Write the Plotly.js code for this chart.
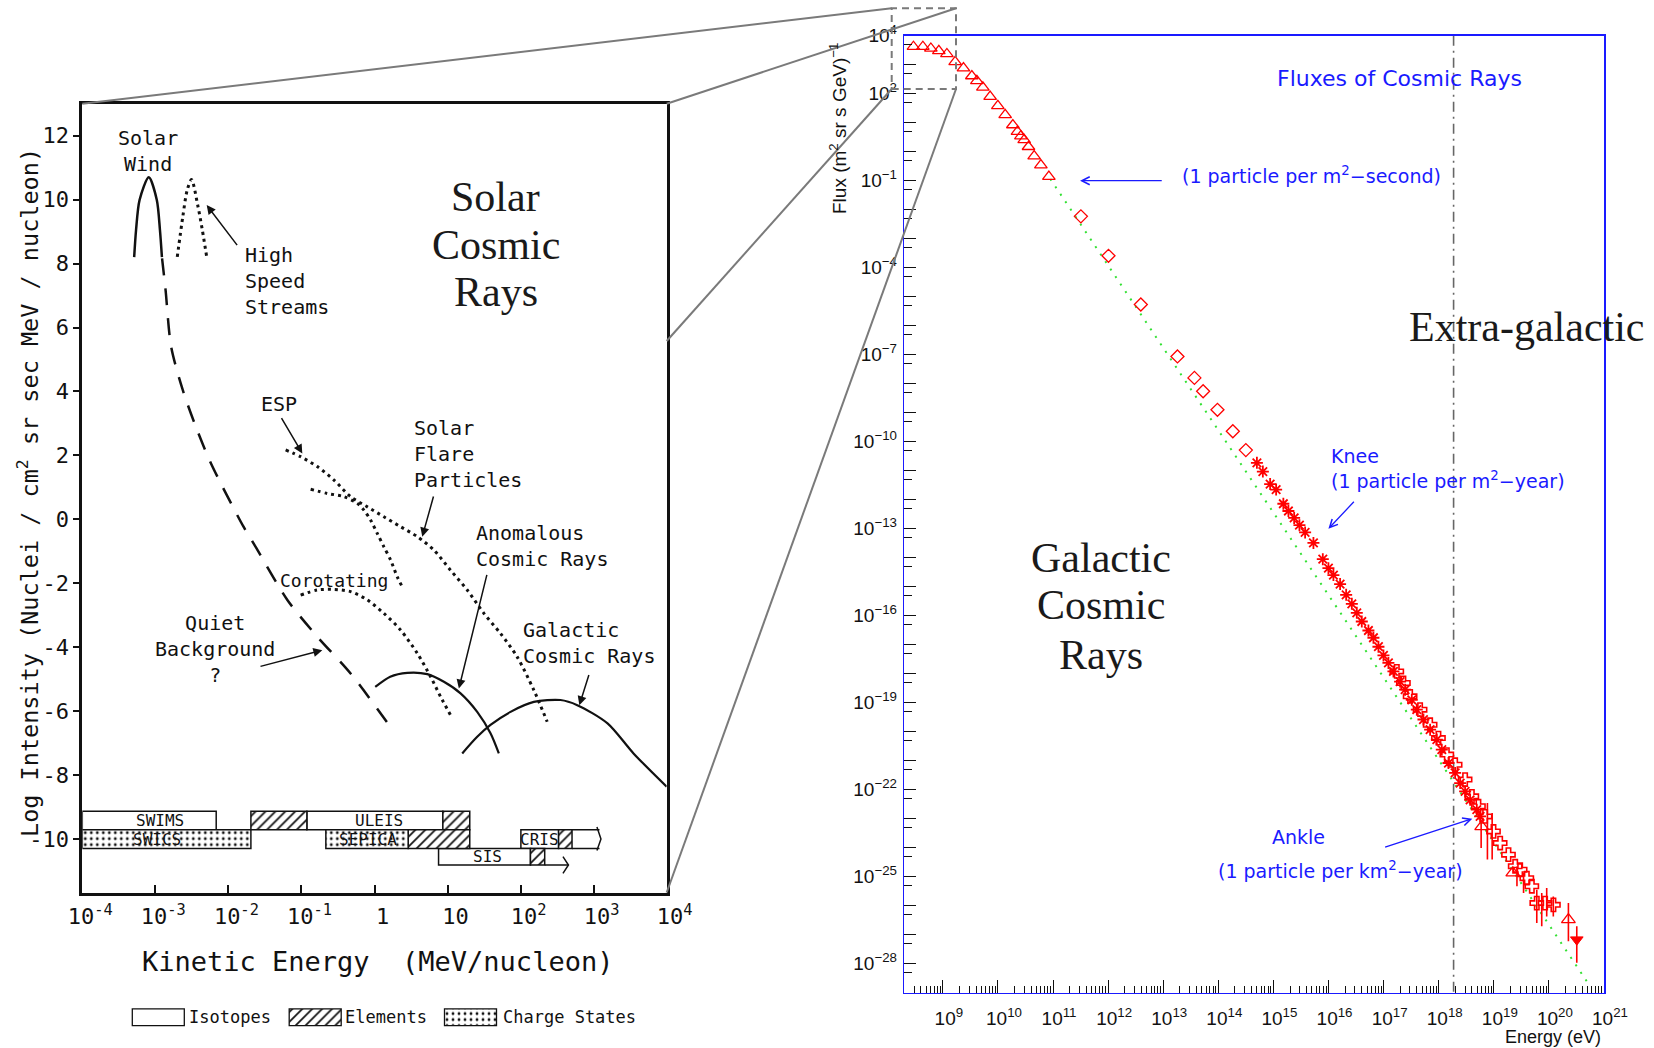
<!DOCTYPE html>
<html>
<head>
<meta charset="utf-8">
<script src="https://cdn.plot.ly/plotly-3.0.1.min.js"></script>
<style>html,body{margin:0;padding:0;background:#fff;}</style>
</head>
<body>
<div id="chart" style="width:1654px;height:1048px;"></div>
<script>
// ================= LEFT PANEL DATA (log10 kinetic energy in MeV/nucleon, log intensity) =================
const solarWindLogE = [-3.29, -3.264, -3.216, -3.09, -2.98, -2.937, -2.91];
const solarWindLogI = [8.2, 9.05, 9.99, 10.7, 9.99, 9.05, 8.2];

const highSpeedLogE = [-2.70, -2.624, -2.564, -2.505, -2.416, -2.357, -2.297];
const highSpeedLogI = [8.21, 9.47, 10.3, 10.63, 9.78, 9.05, 8.21];

const quietLogE = [-2.908, -2.86, -2.784, -2.624, -2.446, -2.238, -1.793, -1.627, -1.193, -0.783, -0.327, 0.265];
const quietLogI = [8.16, 7.17, 5.40, 4.04, 2.90, 1.75, -0.23, -0.86, -2.52, -3.67, -4.82, -6.64];

const flareLogE = [-1.216, -1.011, -0.783, -0.555, -0.327, -0.098, 0.129, 0.357, 0.586, 0.813, 1.041, 1.270, 1.497, 1.725, 1.953, 2.181, 2.364];
const flareLogI = [2.17, 1.96, 1.65, 1.23, 0.71, 0.39, 0.08, -0.23, -0.54, -0.96, -1.59, -2.21, -2.94, -3.57, -4.30, -5.34, -6.33];

const steepLogE = [-0.874, -0.646, -0.419, -0.235, -0.145, -0.054, 0.038, 0.129, 0.220, 0.312, 0.380];
const steepLogI = [0.94, 0.81, 0.71, 0.50, 0.29, -0.02, -0.44, -0.86, -1.27, -1.80, -2.11];

const corotLogE = [-1.011, -0.783, -0.555, -0.327, -0.098, 0.129, 0.357, 0.586, 0.768, 0.905, 1.041];
const corotLogI = [-2.37, -2.21, -2.19, -2.26, -2.52, -2.94, -3.46, -4.19, -4.92, -5.55, -6.12];

const acrLogE = [0.010, 0.215, 0.449, 0.722, 0.950, 1.178, 1.406, 1.588, 1.702];
const acrLogI = [-5.24, -4.92, -4.80, -4.84, -5.08, -5.44, -6.02, -6.69, -7.32];

const gcrLogE = [1.201, 1.406, 1.588, 1.862, 2.181, 2.546, 2.776, 3.19, 3.546, 4.0];
const gcrLogI = [-7.32, -6.80, -6.43, -6.02, -5.71, -5.65, -5.81, -6.38, -7.32, -8.36];

// instrument coverage boxes (log10 start / end, row centre)
const isoStart = [-4, -0.926, 2.004, 0.877];
const isoEnd   = [-2.167, 0.936, 2.52, 2.135];
const isoRow   = [-9.42, -9.42, -10.0, -10.55];
const elemStart = [-1.692, 0.936, 0.461, 2.52, 2.135];
const elemEnd   = [-0.926, 1.304, 1.304, 2.704, 2.33];
const elemRow   = [-9.42, -9.42, -10.0, -10.0, -10.55];
const chargeStart = [-4, -0.666];
const chargeEnd   = [-1.692, 0.461];
const chargeRow   = [-10.0, -10.0];
const instNames = ['SWIMS', 'ULEIS', 'SWICS', 'SEPICA', 'CRIS', 'SIS'];
const instLabelLogE = [-2.934, 0.061, -2.98, -0.087, 2.253, 1.542];
const instLabelRow  = [-9.42, -9.42, -10.0, -10.0, -10.0, -10.55];

const leftTickExp = [-4, -3, -2, -1, 0, 1, 2, 3, 4];
const leftTickText = ['10<sup>-4</sup>', '10<sup>-3</sup>', '10<sup>-2</sup>', '10<sup>-1</sup>', '1', '10', '10<sup>2</sup>', '10<sup>3</sup>', '10<sup>4</sup>'];
const leftYTicks = [-10, -8, -6, -4, -2, 0, 2, 4, 6, 8, 10, 12];

// ================= RIGHT PANEL DATA (log10 energy in eV, log10 flux) =================
const lowTriLogE = [8.466, 8.637, 8.782, 8.927, 9.073, 9.223, 9.374, 9.526, 9.617, 9.726, 9.858, 9.998, 10.131, 10.270, 10.354, 10.416, 10.476, 10.554, 10.657, 10.779, 10.924];
const lowTriLogF = [3.62, 3.62, 3.56, 3.48, 3.37, 3.10, 2.88, 2.61, 2.44, 2.22, 1.90, 1.58, 1.27, 0.92, 0.69, 0.54, 0.41, 0.17, -0.15, -0.46, -0.86];

const diamondLogE = [11.505, 12.006, 12.593, 13.258, 13.566, 13.724, 13.984, 14.263, 14.499];
const diamondLogF = [-2.23, -3.59, -5.27, -7.06, -7.80, -8.26, -8.90, -9.64, -10.29];

const starLogE = [14.70, 14.808, 14.94, 15.049, 15.18, 15.272, 15.376, 15.472, 15.575, 15.726, 15.896, 15.998, 16.089, 16.21, 16.32, 16.423, 16.513, 16.604, 16.724, 16.815, 16.906, 16.997, 17.087, 17.178, 17.299, 17.390, 17.511, 17.602, 17.723, 17.844, 17.966, 18.056, 18.177, 18.298, 18.389, 18.479, 18.570, 18.691, 18.751];
const starLogF = [-10.73, -11.03, -11.46, -11.65, -12.14, -12.39, -12.63, -12.88, -13.13, -13.49, -14.05, -14.36, -14.60, -14.91, -15.28, -15.59, -15.90, -16.20, -16.51, -16.76, -17.07, -17.37, -17.63, -17.92, -18.27, -18.55, -18.90, -19.24, -19.58, -19.93, -20.27, -20.62, -21.08, -21.42, -21.77, -22.06, -22.35, -22.69, -22.92];

const crossLogE = [17.239, 17.359, 17.481, 17.662, 17.844, 17.995, 18.147, 18.298, 18.479, 18.601, 18.721, 18.842, 18.994, 19.115, 19.266, 19.388, 19.478, 19.599, 19.690, 19.780, 19.931, 20.082];
const crossLogF = [-17.92, -18.32, -18.78, -19.24, -19.76, -20.22, -20.79, -21.14, -21.65, -22.23, -22.57, -22.92, -23.44, -23.84, -24.24, -24.64, -24.76, -25.05, -25.33, -25.91, -25.91, -25.97];

const openTriLogE = [18.78, 19.345, 20.354];
const openTriLogF = [-23.27, -24.87, -26.48];
const limitLogE = [20.506];
const limitLogF = [-27.17];

const errLogE  = [18.77, 18.884, 18.97, 19.42, 19.54, 19.78, 19.87, 19.96, 20.08, 20.354, 20.506];
const errLogLo = [-24.01, -24.41, -24.41, -25.33, -25.56, -26.60, -26.71, -26.37, -26.37, -27.23, -27.97];
const errLogHi = [-23.09, -22.46, -22.80, -24.65, -24.87, -25.45, -25.56, -25.39, -25.68, -25.91, -26.71];

const fitLogE = [10.95, 20.72];
const fitLogF = [-0.94, -28.70];
const dividerLogE = 18.27;

const rightXTickExp = [9, 10, 11, 12, 13, 14, 15, 16, 17, 18, 19, 20, 21];
const rightYLabelExp = [4, 2, -1, -4, -7, -10, -13, -16, -19, -22, -25, -28];

// ================= helpers =================
const W = 1654, H = 1048;
const px = v => v / W;
const py = v => 1 - v / H;
const p10 = a => a.map(v => Math.pow(10, v));
const MONO = 'DejaVu Sans Mono, Liberation Mono, monospace';
const SANS = 'DejaVu Sans, Liberation Sans, sans-serif';
const ARIAL = 'Liberation Sans, Arial, sans-serif';
const SERIF = 'Liberation Serif, Times New Roman, serif';
const RED = '#ff0000';
const BLUE = '#1a1aff';

const traces = [];
function curve(le, li, dash, width) {
  traces.push({type: 'scatter', mode: 'lines', x: p10(le), y: li, xaxis: 'x', yaxis: 'y',
    line: {color: '#111', width: width, dash: dash, shape: 'spline', smoothing: 0.8},
    hoverinfo: 'skip', showlegend: false});
}
curve(solarWindLogE, solarWindLogI, 'solid', 2.5);
curve(highSpeedLogE, highSpeedLogI, '3px,4px', 3);
curve(quietLogE, quietLogI, '17px,13px', 2.5);
curve(flareLogE, flareLogI, '3px,4px', 3);
curve(steepLogE, steepLogI, '3px,4px', 3);
curve(corotLogE, corotLogI, '3px,4px', 3);
curve(acrLogE, acrLogI, 'solid', 2.2);
curve(gcrLogE, gcrLogI, 'solid', 2.2);

function boxes(starts, ends, rows, shape, xa, ya, widths) {
  traces.push({type: 'bar', orientation: 'h', xaxis: xa, yaxis: ya,
    y: rows, base: starts, x: ends.map((e, i) => e - starts[i]), width: widths,
    marker: {color: 'white', line: {color: '#111', width: 1.5},
      pattern: {shape: shape, fgcolor: '#111', bgcolor: 'white', size: shape === '.' ? 6 : 7, solidity: shape === '.' ? 0.18 : 0.25}},
    hoverinfo: 'skip', showlegend: false});
}
const rowW = r => r < -10.3 ? 0.52 : 0.58;
boxes(p10(isoStart), p10(isoEnd), isoRow, '', 'x', 'y', isoRow.map(rowW));
boxes(p10(elemStart), p10(elemEnd), elemRow, '/', 'x', 'y', elemRow.map(rowW));
boxes(p10(chargeStart), p10(chargeEnd), chargeRow, '.', 'x', 'y', chargeRow.map(rowW));

// open-ended coverage lines with arrow chevrons (CRIS and SIS)
traces.push({type: 'scatter', mode: 'lines', xaxis: 'x', yaxis: 'y',
  x: p10([2.704, 3.08, null, 2.704, 3.08, null, 3.045, 3.10, 3.045, null, 2.33, 2.655, null, 2.58, 2.655, 2.58]),
  y: [-9.71, -9.71, null, -10.29, -10.29, null, -9.62, -10.0, -10.36, null, -10.81, -10.81, null, -10.55, -10.81, -11.07],
  line: {color: '#111', width: 1.5}, hoverinfo: 'skip', showlegend: false, connectgaps: false});

// ---- right panel traces ----
traces.push({type: 'scatter', mode: 'lines', xaxis: 'x2', yaxis: 'y2', x: p10(fitLogE), y: p10(fitLogF),
  line: {color: '#33e033', width: 2, dash: '2px,7px'}, hoverinfo: 'skip', showlegend: false});
traces.push({type: 'scatter', mode: 'lines', xaxis: 'x2', yaxis: 'y2',
  x: [Math.pow(10, dividerLogE), Math.pow(10, dividerLogE)], y: [1e4, 1e-29],
  line: {color: '#666', width: 1.6, dash: '10px,5px,2px,5px'}, hoverinfo: 'skip', showlegend: false});
const errX = [], errY = [];
errLogE.forEach((e, i) => { errX.push(Math.pow(10, e), Math.pow(10, e), null); errY.push(Math.pow(10, errLogLo[i]), Math.pow(10, errLogHi[i]), null); });
traces.push({type: 'scatter', mode: 'lines', xaxis: 'x2', yaxis: 'y2', x: errX, y: errY,
  line: {color: RED, width: 1.6}, hoverinfo: 'skip', showlegend: false, connectgaps: false});
function pts(le, lf, symbol, size, lw) {
  traces.push({type: 'scatter', mode: 'markers', xaxis: 'x2', yaxis: 'y2', x: p10(le), y: p10(lf),
    marker: {symbol: symbol, size: size, color: RED, line: {color: RED, width: lw}},
    cliponaxis: false, hoverinfo: 'skip', showlegend: false});
}
pts(lowTriLogE, lowTriLogF, 'triangle-up-open', 11, 1.3);
pts(diamondLogE, diamondLogF, 'diamond-open', 10, 1.3);
pts(starLogE, starLogF, 'asterisk-open', 10, 1.8);
pts(crossLogE, crossLogF, 'cross-open', 11, 1.6);
pts(openTriLogE, openTriLogF, 'triangle-up-open', 12, 1.3);
pts(limitLogE, limitLogF, 'triangle-down', 11, 1);

// ---- legend swatches (pixel-space overlay axis) ----
const legendBoxX = [132.3, 289.2, 444.5];
const legendBoxW = 52;
traces.push({type: 'bar', orientation: 'h', xaxis: 'x3', yaxis: 'y3', y: [1017.3], base: [legendBoxX[0]], x: [legendBoxW], width: [16.7],
  marker: {color: 'white', line: {color: '#111', width: 1.3}}, hoverinfo: 'skip', showlegend: false});
traces.push({type: 'bar', orientation: 'h', xaxis: 'x3', yaxis: 'y3', y: [1017.3], base: [legendBoxX[1]], x: [legendBoxW], width: [16.7],
  marker: {color: 'white', line: {color: '#111', width: 1.3}, pattern: {shape: '/', fgcolor: '#111', bgcolor: 'white', size: 7, solidity: 0.25}}, hoverinfo: 'skip', showlegend: false});
traces.push({type: 'bar', orientation: 'h', xaxis: 'x3', yaxis: 'y3', y: [1017.3], base: [legendBoxX[2]], x: [legendBoxW], width: [16.7],
  marker: {color: 'white', line: {color: '#111', width: 1.3}, pattern: {shape: '.', fgcolor: '#111', bgcolor: 'white', size: 6, solidity: 0.18}}, hoverinfo: 'skip', showlegend: false});

// ================= annotations =================
const ann = [];
function txt(x, y, text, opts) {
  ann.push(Object.assign({x: x, y: y, xref: 'x', yref: 'y', text: text, showarrow: false,
    xanchor: 'center', yanchor: 'middle',
    font: {family: MONO, size: 20, color: '#111'}}, opts || {}));
}
function arrow(xref, yref, tx, ty, tailx, taily, color, head, w) {
  ann.push({xref: xref, yref: yref, axref: xref, ayref: yref, x: tx, y: ty, ax: tailx, ay: taily,
    text: '', showarrow: true, arrowhead: head, arrowsize: 1.2, arrowwidth: w, arrowcolor: color});
}
// left panel labels
txt(-3.1, 11.52, 'Solar<br>Wind');
txt(-1.796, 7.47, 'High<br>Speed<br>Streams', {xanchor: 'left', align: 'left'});
txt(-1.305, 3.6, 'ESP');
txt(0.515, 2.06, 'Solar<br>Flare<br>Particles', {xanchor: 'left', align: 'left'});
txt(1.36, -0.83, 'Anomalous<br>Cosmic Rays', {xanchor: 'left', align: 'left'});
txt(2.008, -3.88, 'Galactic<br>Cosmic Rays', {xanchor: 'left', align: 'left'});
txt(-0.56, -1.90, 'Corotating', {font: {family: MONO, size: 18, color: '#111'}});
txt(-2.183, -4.04, 'Quiet<br>Background<br>?');
txt(1.663, 10.09, 'Solar', {font: {family: SERIF, size: 42, color: '#1a1a1a'}});
txt(1.663, 8.58, 'Cosmic', {font: {family: SERIF, size: 42, color: '#1a1a1a'}});
txt(1.663, 7.12, 'Rays', {font: {family: SERIF, size: 42, color: '#1a1a1a'}});
instNames.forEach((n, i) => txt(instLabelLogE[i], instLabelRow[i], n, {font: {family: MONO, size: 16, color: '#111'}}));
arrow('x', 'y', -2.297, 9.83, -1.865, 8.53, '#111', 2, 1.5);
arrow('x', 'y', -0.988, 2.06, -1.285, 3.21, '#111', 2, 1.5);
arrow('x', 'y', 0.654, -0.54, 0.813, 0.76, '#111', 2, 1.5);
arrow('x', 'y', 1.155, -5.29, 1.543, -1.69, '#111', 2, 1.5);
arrow('x', 'y', 2.804, -5.81, 2.941, -4.82, '#111', 2, 1.5);
arrow('x', 'y', -0.714, -4.09, -1.581, -4.61, '#111', 2, 1.5);

// right panel labels
const rt = (x, y, text, opts) => txt(x, y, text, Object.assign({xref: 'x2', yref: 'y2', font: {family: SANS, size: 19, color: BLUE}}, opts || {}));
rt(17.28, 2.53, 'Fluxes of Cosmic Rays', {font: {family: SANS, size: 22, color: BLUE}});
rt(13.296, -0.816, '(1 particle per m<sup>2</sup>\u2212second)', {xanchor: 'left'});
rt(16.016, -10.91, 'Knee<br>(1 particle per m<sup>2</sup>\u2212year)', {xanchor: 'left', align: 'left'});
rt(15.448, -23.63, 'Ankle');
rt(16.223, -24.78, '(1 particle per km<sup>2</sup>\u2212year)');
rt(11.873, -14.01, 'Galactic', {font: {family: SERIF, size: 42, color: '#1a1a1a'}});
rt(11.873, -15.62, 'Cosmic', {font: {family: SERIF, size: 42, color: '#1a1a1a'}});
rt(11.873, -17.34, 'Rays', {font: {family: SERIF, size: 42, color: '#1a1a1a'}});
rt(19.60, -6.03, 'Extra-galactic', {font: {family: SERIF, size: 42, color: '#1a1a1a'}});
arrow('x2', 'y2', 11.49, -1.0, 13.0, -1.0, BLUE, 5, 1.3);
arrow('x2', 'y2', 15.998, -13.0, 16.486, -12.02, BLUE, 5, 1.3);
arrow('x2', 'y2', 18.61, -23.0, 17.0, -24.0, BLUE, 5, 1.3);

// axis titles and legend texts (paper positions)
const pt = (x, y, text, opts) => ann.push(Object.assign({xref: 'paper', yref: 'paper', x: px(x), y: py(y), text: text, showarrow: false,
  xanchor: 'center', yanchor: 'middle',
  font: {family: MONO, size: 17, color: '#111'}}, opts || {}));
pt(28, 493, 'Log Intensity (Nuclei / cm<sup>2</sup> sr sec MeV / nucleon)', {textangle: -90, font: {family: MONO, size: 23.5, color: '#111'}});
pt(377, 961.7, 'Kinetic Energy\u00a0 (MeV/nucleon)', {font: {family: MONO, size: 27, color: '#111'}});
pt(186.5, 1017.3, 'Isotopes', {xanchor: 'left'});
pt(342.6, 1017.3, 'Elements', {xanchor: 'left'});
pt(500.9, 1017.3, 'Charge States', {xanchor: 'left'});
pt(838, 129, 'Flux (m<sup>2</sup> sr s GeV)<sup>\u22121</sup>', {textangle: -90, font: {family: ARIAL, size: 19, color: '#111'}});
pt(1603, 1037, 'Energy (eV)', {xanchor: 'right', font: {family: ARIAL, size: 18, color: '#111'}});

// ================= zoom-connector shapes =================
const GRAY = '#7a7a7a';
const seg = (x0, y0, x1, y1, dash) => ({type: 'line', xref: 'paper', yref: 'paper', x0: px(x0), y0: py(y0), x1: px(x1), y1: py(y1),
  line: {color: GRAY, width: 2, dash: dash || 'solid'}, layer: 'above'});
const shapes = [
  seg(82.3, 103.7, 891.7, 8.3),
  seg(666.7, 103.7, 956, 8.3),
  seg(666.7, 341, 891.7, 89),
  seg(666.7, 892.5, 956, 89),
  {type: 'rect', xref: 'paper', yref: 'paper', x0: px(891.7), y0: py(89), x1: px(956), y1: py(8.3),
    line: {color: GRAY, width: 2, dash: '7px,5px'}, fillcolor: 'rgba(0,0,0,0)', layer: 'above'}
];

// ================= axes =================
const minorX = [];
for (let n = 8; n <= 20; n++) for (let k = 2; k <= 9; k++) { const v = k * Math.pow(10, n); if (Math.log10(v) > 8.3 && Math.log10(v) < 21) minorX.push(v); }
const minorY = [];
for (let n = -28; n <= 4; n++) minorY.push(0.5 * Math.pow(10, n));
const unlabeledDecades = [];
for (let n = -29; n <= 4; n++) if (rightYLabelExp.indexOf(n) < 0) unlabeledDecades.push(n);

const layout = {
  width: W, height: H, margin: {l: 0, r: 0, t: 0, b: 0},
  paper_bgcolor: 'white', plot_bgcolor: 'rgba(0,0,0,0)',
  barmode: 'overlay', showlegend: false, hovermode: false,
  xaxis: {domain: [px(82.3), px(666.7)], type: 'log', range: [-4, 4], anchor: 'y',
    tickmode: 'array', tickvals: p10(leftTickExp), ticktext: leftTickText,
    ticks: 'inside', ticklen: 8, tickwidth: 2, tickcolor: '#111', ticklabelshift: 8, ticklabelstandoff: 2,
    showline: true, linecolor: '#111', linewidth: 3, mirror: true, showgrid: false, zeroline: false,
    tickfont: {family: MONO, size: 22, color: '#111'}},
  yaxis: {domain: [py(892.5), py(103.7)], range: [-11.67, 13], anchor: 'x',
    tickmode: 'array', tickvals: leftYTicks, ticktext: leftYTicks.map(v => String(v)),
    ticks: 'outside', ticklen: 6, tickwidth: 2, tickcolor: '#111',
    showline: true, linecolor: '#111', linewidth: 3, mirror: true, showgrid: false, zeroline: false,
    tickfont: {family: MONO, size: 22, color: '#111'}},
  xaxis2: {domain: [px(904.3), px(1604)], type: 'log', range: [8.3, 21], anchor: 'y2',
    tickmode: 'array', tickvals: p10(rightXTickExp), ticktext: rightXTickExp.map(n => '10<sup>' + n + '</sup>'),
    ticks: 'inside', ticklen: 13, tickwidth: 1, tickcolor: '#111', ticklabelshift: 6, ticklabelstandoff: 8,
    minor: {tickmode: 'array', tickvals: minorX, ticks: 'inside', ticklen: 7, tickwidth: 1, tickcolor: '#111', showgrid: false},
    showline: true, linecolor: BLUE, linewidth: 1.5, mirror: true, showgrid: false, zeroline: false,
    tickfont: {family: ARIAL, size: 19, color: '#111'}},
  yaxis2: {domain: [py(992.7), py(35.7)], type: 'log', range: [-29, 4], anchor: 'x2',
    tickmode: 'array', tickvals: p10(rightYLabelExp),
    ticktext: rightYLabelExp.map(n => '10<sup>' + String(n).replace('-', '\u2212') + '</sup>'),
    ticks: 'inside', ticklen: 12, tickwidth: 1, tickcolor: '#111', ticklabelstandoff: 2,
    minor: {tickmode: 'array', tickvals: minorY, ticks: 'inside', ticklen: 8, tickwidth: 1, tickcolor: '#111', showgrid: false},
    showline: true, linecolor: BLUE, linewidth: 1.5, mirror: true, showgrid: false, zeroline: false,
    tickfont: {family: ARIAL, size: 19, color: '#111'}},
  // unlabeled decade ticks of the flux axis
  yaxis4: {domain: [py(992.7), py(35.7)], type: 'log', range: [-29, 4], anchor: 'x2', overlaying: 'y2',
    tickmode: 'array', tickvals: p10(unlabeledDecades), showticklabels: false,
    ticks: 'inside', ticklen: 12, tickwidth: 1, tickcolor: '#111',
    showline: false, showgrid: false, zeroline: false},
  xaxis3: {domain: [0, 1], range: [0, W], anchor: 'y3', visible: false, fixedrange: true},
  yaxis3: {domain: [0, 0.07], range: [H, H - 0.07 * H], anchor: 'x3', visible: false, fixedrange: true},
  annotations: ann,
  shapes: shapes
};

// invisible anchor trace so the overlay tick axis is drawn
traces.push({type: 'scatter', mode: 'markers', xaxis: 'x2', yaxis: 'y4', x: p10(fitLogE), y: p10(fitLogF),
  marker: {size: 1, opacity: 0}, hoverinfo: 'skip', showlegend: false});

Plotly.newPlot('chart', traces, layout, {staticPlot: true, displayModeBar: false});
</script>
</body>
</html>
